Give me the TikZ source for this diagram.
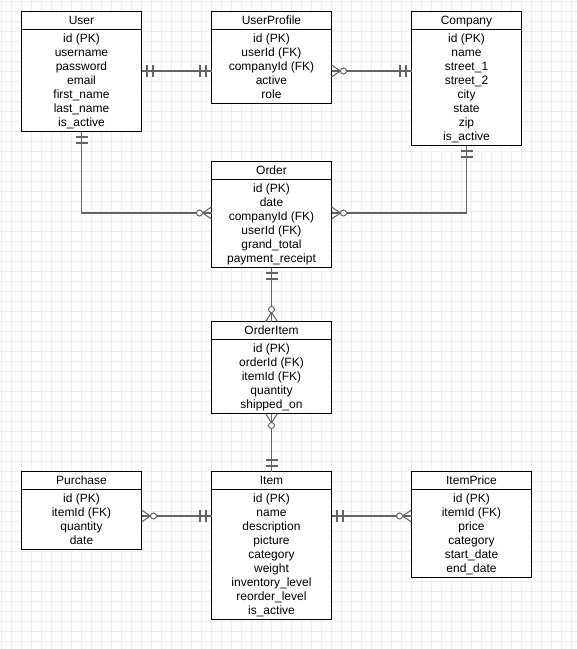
\documentclass[tikz,border=0pt]{standalone}
\usepackage{fontspec}
\setmainfont{Liberation Sans}
\usetikzlibrary{calc}

\definecolor{gridc}{RGB}{237,236,250}
\definecolor{linkc}{RGB}{100,100,100}

% strut giving every table row a 14pt slot with the text optically centred
\newcommand\rs{\rule[-2.7pt]{0pt}{14pt}}

\tikzset{
  tbl/.style={draw=black, line width=1pt, fill=white, text=black, outer sep=0pt,
    font=\fontsize{12pt}{14pt}\selectfont},
  head/.style={tbl, anchor=north west, inner xsep=0pt, inner ysep=2pt,
    minimum height=18},
  body/.style={tbl, anchor=north, align=center, inner xsep=0pt, inner ysep=2pt},
  link/.style={draw=linkc, line width=1.6pt},
  gridline/.style={draw=gridc, line width=1pt},
  one/.pic={
    \draw[draw=linkc, line width=2pt] (5.5,-6) -- (5.5,6) (11.5,-6) -- (11.5,6);
  },
  many/.pic={
    \draw[draw=linkc, line width=1pt] (0,-6) -- (9,0) -- (0,6);
    \draw[draw=linkc, line width=1pt, fill=white] (12,0) circle[radius=3];
  },
}

\begin{document}
\begin{tikzpicture}[x=1pt, y=-1pt]
\useasboundingbox[fill=white] (0,0) rectangle (577,649);

% background grid
\foreach \i in {1.5,11.5,...,571.5} \draw[gridline] (\i,0) -- (\i,649);
\foreach \j in {1.5,11.5,...,641.5} \draw[gridline] (0,\j) -- (577,\j);

% heights of the horizontal connector runs
\coordinate (rowA) at (0,71);
\coordinate (rowB) at (0,213);
\coordinate (rowC) at (0,516);

% entities
\node[head, minimum width=120] (user) at (21.5,11.5) {\rs User};
\node[body, minimum width=120] (user-b) at (user.south)
  {\rs id (PK)\\username\\password\\email\\first\_name\\last\_name\\is\_active\rs};

\node[head, minimum width=120] (prof) at (211.5,11.5) {\rs UserProfile};
\node[body, minimum width=120] (prof-b) at (prof.south)
  {\rs id (PK)\\userId (FK)\\companyId (FK)\\active\\role\rs};

\node[head, minimum width=110] (comp) at (411.5,11.5) {\rs Company};
\node[body, minimum width=110] (comp-b) at (comp.south)
  {\rs id (PK)\\name\\street\_1\\street\_2\\city\\state\\zip\\is\_active\rs};

\node[head, minimum width=120] (order) at (211.5,161.5) {\rs Order};
\node[body, minimum width=120] (order-b) at (order.south)
  {\rs id (PK)\\date\\companyId (FK)\\userId (FK)\\grand\_total\\payment\_receipt\rs};

\node[head, minimum width=120] (oitem) at (211.5,321.5) {\rs OrderItem};
\node[body, minimum width=120] (oitem-b) at (oitem.south)
  {\rs id (PK)\\orderId (FK)\\itemId (FK)\\quantity\\shipped\_on\rs};

\node[head, minimum width=120] (purch) at (21.5,471.5) {\rs Purchase};
\node[body, minimum width=120] (purch-b) at (purch.south)
  {\rs id (PK)\\itemId (FK)\\quantity\\date\rs};

\node[head, minimum width=120] (item) at (211.5,471.5) {\rs Item};
\node[body, minimum width=120] (item-b) at (item.south)
  {\rs id (PK)\\name\\description\\picture\\category\\weight\\inventory\_level\\reorder\_level\\is\_active\rs};

\node[head, minimum width=120] (price) at (411.5,471.5) {\rs ItemPrice};
\node[body, minimum width=120] (price-b) at (price.south)
  {\rs id (PK)\\itemId (FK)\\price\\category\\start\_date\\end\_date\rs};

% relationships
\draw[link] (user-b.east |- rowA) -- (prof-b.west |- rowA);
\draw[link] (prof-b.east |- rowA) -- (comp-b.west |- rowA);
\draw[link] (user-b.south) |- (order-b.west |- rowB);
\draw[link] (comp-b.south) |- (order-b.east |- rowB);
\draw[link] (order-b.south) -- (oitem.north);
\draw[link] (oitem-b.south) -- (item.north);
\draw[link] (purch-b.east |- rowC) -- (item-b.west |- rowC);
\draw[link] (item-b.east |- rowC) -- (price-b.west |- rowC);

% cardinality marks
\pic[rotate=0]   at (user-b.east |- rowA) {one};
\pic[rotate=180] at (prof-b.west |- rowA) {one};
\pic[rotate=0]   at (prof-b.east |- rowA) {many};
\pic[rotate=180] at (comp-b.west |- rowA) {one};
\pic[rotate=-90] at (user-b.south) {one};
\pic[rotate=180] at (order-b.west |- rowB) {many};
\pic[rotate=-90] at (comp-b.south) {one};
\pic[rotate=0]   at (order-b.east |- rowB) {many};
\pic[rotate=-90] at (order-b.south) {one};
\pic[rotate=90]  at (oitem.north) {many};
\pic[rotate=-90] at (oitem-b.south) {many};
\pic[rotate=90]  at (item.north) {one};
\pic[rotate=0]   at (purch-b.east |- rowC) {many};
\pic[rotate=180] at (item-b.west |- rowC) {one};
\pic[rotate=0]   at (item-b.east |- rowC) {one};
\pic[rotate=180] at (price-b.west |- rowC) {many};
\end{tikzpicture}
\end{document}
